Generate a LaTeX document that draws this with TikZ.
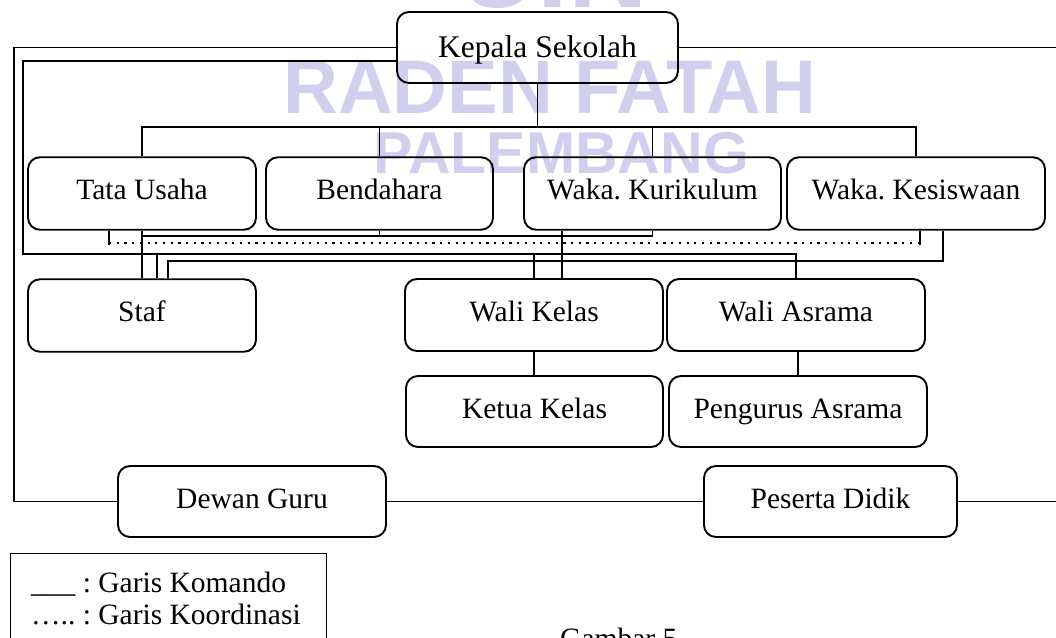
\documentclass[tikz,border=0pt]{standalone}
\usepackage{fontspec}
\setmainfont{Liberation Serif}
\newfontfamily\wmfont{Liberation Sans}
\definecolor{wmcol}{RGB}{208,208,238}
\frenchspacing
\begin{document}
\begin{tikzpicture}[x=1pt,y=-1pt,
  box/.style={draw, rounded corners=12pt, line width=1.9pt, inner sep=0pt,
    text height=42pt, text depth=30.5pt, font=\fontsize{29.5pt}{34pt}\selectfont},
  conn/.style={line width=1.9pt},
  dotline/.style={line width=2.2pt, dash pattern=on 2.2pt off 5.5pt},
  wm/.style={anchor=base west, inner sep=0pt, text=wmcol},
  txt/.style={anchor=base west, inner sep=0pt, font=\fontsize{29.5pt}{34pt}\selectfont}]
\useasboundingbox (0,0) rectangle (1056,637);
\clip (0,0) rectangle (1056,637);
% watermark
\node[wm, font=\wmfont\bfseries\fontsize{110pt}{110pt}\selectfont] (wm3) at (458,8) {UIN};
\node[wm, font=\wmfont\bfseries\fontsize{76pt}{76pt}\selectfont] (wm1) at (283,113) {RADEN FATAH};
\node[wm, font=\wmfont\bfseries\fontsize{59pt}{59pt}\selectfont] (wm2) at (373,173) {PALEMBANG};
% boxes
\node[box, minimum width=281pt, text height=45pt, text depth=26pt, font=\fontsize{31.5pt}{36pt}\selectfont] (kepala) at (537.5,47.5) {Kepala Sekolah};
\node[box, minimum width=228pt] (tata) at (142,193.5) {Tata Usaha};
\node[box, minimum width=227pt] (bend) at (379.5,193.5) {Bendahara};
\node[box, minimum width=257pt] (kur) at (652.5,193.5) {Waka. Kurikulum};
\node[box, minimum width=258pt] (kes) at (916,193.5) {Waka. Kesiswaan};
\node[box, minimum width=228pt] (staf) at (142,315.5) {Staf};
\node[box, minimum width=258pt, text depth=30pt] (wk) at (534,315) {Wali Kelas};
\node[box, minimum width=258pt, text depth=30pt] (wa) at (796,315) {Wali Asrama};
\node[box, minimum width=257pt, text depth=29pt] (ketua) at (534.5,411.5) {Ketua Kelas};
\node[box, minimum width=258pt, text depth=29pt] (peng) at (798,411.5) {Pengurus Asrama};
\node[box, minimum width=268pt, text depth=29pt] (dewan) at (252,501.5) {Dewan Guru};
\node[box, minimum width=253pt, text depth=29pt] (peserta) at (830.5,501.5) {Peserta Didik};
% coordinates
\coordinate (R) at (1060,0);
\coordinate (L1) at (14,0);
\coordinate (L2) at (23,0);
\coordinate (bT) at (0,127);
\coordinate (bC) at (0,236);
\coordinate (bD) at (0,243);
\coordinate (bA) at (0,254);
\coordinate (bB) at (0,261);
% command lines from Kepala
\draw[conn] (kepala.south) -- (kepala.south |- bT);
\draw[conn] (tata.north) -- (tata.north |- bT) -- (kes.north |- bT) -- (kes.north);
\draw[conn] (bend.north) -- (bend.north |- bT);
\draw[conn] (kur.north) -- (kur.north |- bT);
\draw[conn] (kepala.west) -| (L1 |- dewan.west) -- (dewan.west);
\draw[conn] (kepala.east) -- (kepala.east -| R);
\draw[conn] (dewan.east) -- (peserta.west);
\draw[conn] (peserta.east) -- (peserta.east -| R);
\draw[conn] ([yshift=-13.5pt]kepala.west) -| (L2 |- bA) -| (wa.north);
\draw[conn] ([xshift=15pt]staf.north) -- ([xshift=15pt]staf.north |- bA);
\draw[conn] (wk.north) -- (wk.north |- bA);
% Kesiswaan to Staf
\draw[conn] ([xshift=27pt]kes.south) |- ([xshift=26pt]staf.north |- bB) -- ([xshift=26pt]staf.north);
% Tata Usaha links
\draw[conn] (tata.south) -- (staf.north);
\draw[conn] (tata.south |- bC) -| (kur.south);
\draw[conn] (bend.south) -- (bend.south |- bC);
% Kurikulum to Wali Kelas
\draw[conn] ([xshift=28pt]wk.north) -- ([xshift=28pt]wk.north |- kur.south);
% sub-units
\draw[conn] (wk.south) -- (wk.south |- ketua.north);
\draw[conn] (peng.north |- wa.south) -- (peng.north);
% coordination (dotted)
\draw[conn] ([xshift=-33pt]tata.south) -- ([xshift=-33pt,yshift=-2pt]tata.south |- bD);
\draw[conn] ([xshift=4pt]kes.south) -- ([xshift=4pt,yshift=-2pt]kes.south |- bD);
\draw[dotline] ([xshift=-33pt]tata.south |- bD) -- ([xshift=4pt]kes.south |- bD);
% legend
\node[draw, line width=1.3pt, minimum width=316pt, minimum height=110pt, anchor=north west, inner sep=0pt] (legend) at (10,553) {};
\node[txt] (leg1) at (31,592) {\_\_\_ : Garis Komando};
\node[txt] (leg2) at (31,624) {\ldots.. : Garis Koordinasi};
\node[txt] (cap) at (560,648) {Gambar 5};
\end{tikzpicture}
\end{document}
